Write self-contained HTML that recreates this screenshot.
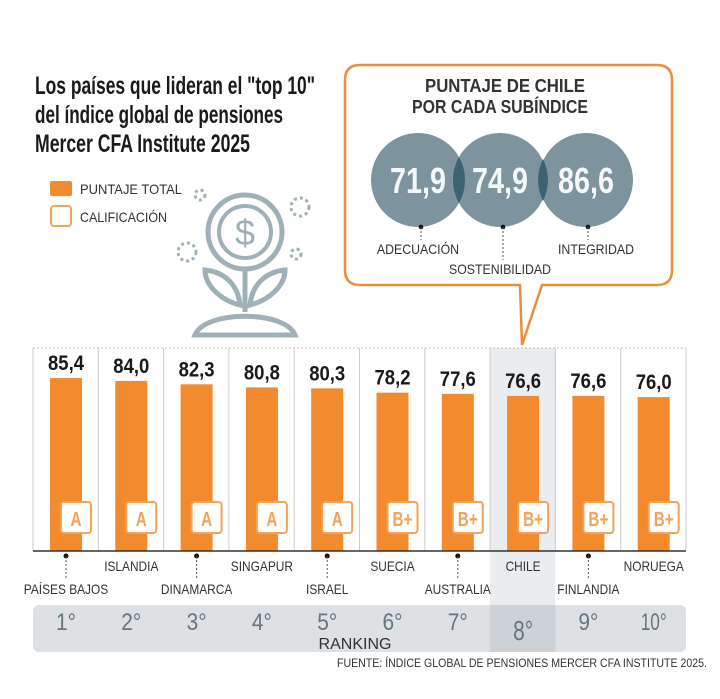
<!DOCTYPE html>
<html><head><meta charset="utf-8"><style>
html,body{margin:0;padding:0;background:#fff;}
svg{display:block;font-family:"Liberation Sans",sans-serif;}
</style></head><body>
<svg id="chart" width="720" height="699" viewBox="0 0 720 699">
<g font-weight="bold" fill="#1a1a1a" font-size="25">
<text x="35" y="94" textLength="280" lengthAdjust="spacingAndGlyphs">Los países que lideran el "top 10"</text>
<text x="35" y="123" textLength="248" lengthAdjust="spacingAndGlyphs">del índice global de pensiones</text>
<text x="35" y="152" textLength="215" lengthAdjust="spacingAndGlyphs">Mercer CFA Institute 2025</text>
</g>
<g>
<rect x="50" y="181" width="22" height="15" rx="2" fill="#f28a2e"/>
<text x="80" y="194" font-size="14" fill="#333" textLength="102" lengthAdjust="spacingAndGlyphs">PUNTAJE TOTAL</text>
<rect x="51" y="206" width="20" height="20" rx="3" fill="#fff" stroke="#f0a35a" stroke-width="2"/>
<text x="80" y="222" font-size="14" fill="#333" textLength="87" lengthAdjust="spacingAndGlyphs">CALIFICACIÓN</text>
</g>
<g fill="none" stroke="#9fb0b6" stroke-width="5">
<circle cx="245" cy="232" r="37"/><circle cx="245" cy="232" r="26" stroke-width="4"/>
<text x="245" y="245" font-size="36" text-anchor="middle" fill="#9fb0b6" stroke="none">$</text>
<line x1="245" y1="270" x2="245" y2="312"/>
<path d="M240 305 C220 300 205 285 205 270 C225 272 238 285 240 305Z"/>
<path d="M250 305 C270 300 285 285 285 270 C265 272 252 285 250 305Z"/>
<path d="M195 335 C205 310 285 310 295 335 Z"/>
<g stroke-width="3" stroke-dasharray="3 3"><circle cx="200" cy="195" r="5"/><circle cx="300" cy="207" r="9"/><circle cx="187" cy="252" r="9"/><circle cx="296" cy="254" r="5"/></g>
</g>
<g>
<path d="M360 65 H657 Q672 65 672 80 V270 Q672 285 657 285 H542 L522 345 L520 285 H360 Q345 285 345 270 V80 Q345 65 360 65Z" fill="#fff" stroke="#e88f3c" stroke-width="2.5"/>
<text x="505" y="92" text-anchor="middle" font-size="18" font-weight="bold" fill="#333" textLength="160" lengthAdjust="spacingAndGlyphs">PUNTAJE DE CHILE</text>
<text x="500" y="113" text-anchor="middle" font-size="18" font-weight="bold" fill="#333" textLength="176" lengthAdjust="spacingAndGlyphs">POR CADA SUBÍNDICE</text>
<g id="venn"></g>
</g>
<g id="plot"></g>
<text x="707" y="667" text-anchor="end" font-size="11.5" fill="#333" textLength="370" lengthAdjust="spacingAndGlyphs">FUENTE: ÍNDICE GLOBAL DE PENSIONES MERCER CFA INSTITUTE 2025.</text>
</svg>
<script>
const countries=["PAÍSES BAJOS","ISLANDIA","DINAMARCA","SINGAPUR","ISRAEL","SUECIA","AUSTRALIA","CHILE","FINLANDIA","NORUEGA"];
const scores=[85.4,84.0,82.3,80.8,80.3,78.2,77.6,76.6,76.6,76.0];
const grades=["A","A","A","A","A","B+","B+","B+","B+","B+"];
const ranks=["1°","2°","3°","4°","5°","6°","7°","8°","9°","10°"];
const subLabels=["ADECUACIÓN","SOSTENIBILIDAD","INTEGRIDAD"];
const subValues=[71.9,74.9,86.6];
const NS="http://www.w3.org/2000/svg";
function mk(p,t,a,txt){const el=document.createElementNS(NS,t);for(const k in a)el.setAttribute(k,a[k]);if(txt!=null)el.textContent=txt;p.appendChild(el);return el;}
function squeeze(el,f){const L=el.getComputedTextLength();if(L>0){el.setAttribute('textLength',(L*f).toFixed(1));el.setAttribute('lengthAdjust','spacingAndGlyphs');}}
const plot=document.getElementById('plot');
const x0=33,cw=65.3,base=551,kScale=2.025,topY=348;
const xCol=i=>x0+i*cw;
const yVal=v=>base-v*kScale;
const fmt=v=>v.toFixed(1).replace('.',',');
const hi=countries.indexOf("CHILE");
let e;
e=mk(plot,'rect',{x:xCol(hi),y:topY,width:cw,height:300,fill:"#eaedef"});


e=mk(plot,'line',{x1:x0,y1:topY,x2:x0+10*cw,y2:topY,stroke:"#bbb","stroke-dasharray":"2 2"});


for(let i=0;i<=10;i++){e=mk(plot,'line',{x1:xCol(i),y1:topY,x2:xCol(i),y2:base,stroke:"#ccc"});

}
e=mk(plot,'rect',{x:x0,y:605,width:10*cw,height:47,rx:6,fill:"#dde1e3"});


e=mk(plot,'rect',{x:xCol(hi),y:605,width:cw,height:47,fill:"#ccd2d6"});


scores.forEach((v,i)=>{
 const bx=xCol(i)+17,cx=bx+16;
 e=mk(plot,'rect',{x:bx,y:yVal(v),width:32,height:base-yVal(v),fill:"#f28a2e"});
 
 
 e=mk(plot,'text',{x:cx,y:yVal(v)-8,"text-anchor":"middle","font-size":"21","font-weight":"bold",fill:"#1a1a1a",textLength:"36",lengthAdjust:"spacingAndGlyphs"},fmt(v));
 
 
 e=mk(plot,'rect',{x:xCol(i)+28,y:502,width:30,height:31,rx:3,fill:"#fff",stroke:"#f0a35a","stroke-width":"2"});
 
 
 const ga={x:xCol(i)+43,y:526,"text-anchor":"middle","font-size":"20","font-weight":"bold",fill:"#f0a35a"};
 if(grades[i].length>1){ga.textLength="20";ga.lengthAdjust="spacingAndGlyphs";}else{ga.textLength="11";ga.lengthAdjust="spacingAndGlyphs";}
 e=mk(plot,'text',ga,grades[i]);
 
 
 const low=i%2===0;
 if(low){mk(plot,'circle',{cx:cx,cy:556,r:2.5,fill:"#111"});mk(plot,'line',{x1:cx,y1:556,x2:cx,y2:580,stroke:"#555","stroke-dasharray":"2 2"});}
 e=mk(plot,'text',{x:cx,y:low?594:571,"text-anchor":"middle","font-size":"14",fill:"#333"},countries[i]);
 
 
 squeeze(e,0.85);
 e=mk(plot,'text',{x:cx,y:i===hi?640:630,"text-anchor":"middle","font-size":i===hi?"28":"24",fill:"#66767e",textLength:i===9?"26":"20",lengthAdjust:"spacingAndGlyphs"},ranks[i]);
 
 
});
e=mk(plot,'line',{x1:x0,y1:base,x2:x0+10*cw,y2:base,stroke:"#333","stroke-width":"1.5"});


e=mk(plot,'text',{x:355,y:649,"text-anchor":"middle","font-size":"16",fill:"#333"},"RANKING");


const venn=document.getElementById('venn');
const vcx=[418,500,586],vy=180,vr=47;
vcx.forEach((c,i)=>{e=mk(venn,'circle',{cx:c,cy:vy,r:vr,fill:"#7d939d"});

});
mk(venn,'path',{d:"M459 157 A47 47 0 0 1 459 203 A47 47 0 0 1 459 157Z",fill:"#3c6274"});
mk(venn,'path',{d:"M543 159 A47 47 0 0 1 543 201 A47 47 0 0 1 543 159Z",fill:"#3c6274"});
subValues.forEach((v,i)=>{
 e=mk(venn,'text',{x:vcx[i],y:vy+13,"text-anchor":"middle","font-size":"36","font-weight":"bold",fill:"#f4f6f7",textLength:"56",lengthAdjust:"spacingAndGlyphs"},fmt(v));
 
 
 const ly=i===1?274:254;
 mk(venn,'circle',{cx:vcx[i]+(i===2?2:3),cy:227,r:2.3,fill:"#111"});
 mk(venn,'line',{x1:vcx[i]+(i===2?2:3),y1:227,x2:vcx[i]+(i===2?2:3),y2:ly-14,stroke:"#555","stroke-dasharray":"2 2"});
 e=mk(venn,'text',{x:vcx[i]+(i===2?10:0),y:ly,"text-anchor":"middle","font-size":"14",fill:"#333"},subLabels[i]);
 
 
 squeeze(e,0.88);
});
</script>
</body></html>
